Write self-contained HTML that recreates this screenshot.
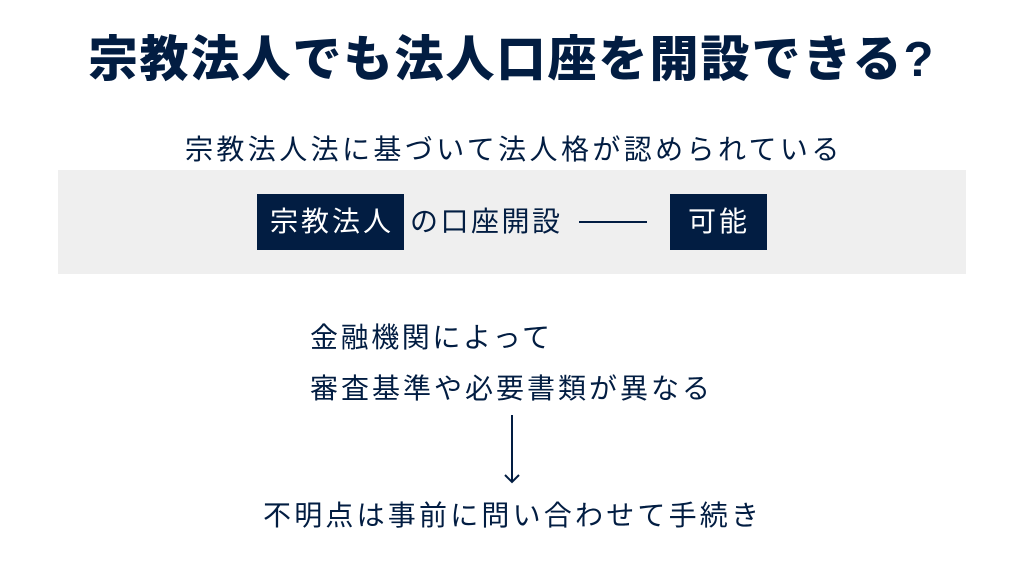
<!DOCTYPE html>
<html><head><meta charset="utf-8"><style>
body{margin:0;width:1024px;height:576px;background:#fff;position:relative;overflow:hidden;font-family:"Liberation Sans","Noto Sans CJK JP",sans-serif;color:#021d42}
.t{position:absolute;white-space:nowrap;line-height:1}
</style></head><body>
<div class="t" style="left:0;width:1024px;text-align:center;top:36px;font-size:49px;font-weight:900;letter-spacing:2px">宗教法人でも法人口座を開設できる?</div>
<div class="t" style="left:185px;top:136px;font-size:28px;letter-spacing:3.4px">宗教法人法に基づいて法人格が認められている</div>
<div style="position:absolute;left:58px;top:170px;width:908px;height:104px;background:#efefef"></div>
<div style="position:absolute;left:257px;top:194px;width:147px;height:56px;background:#021d42"></div>
<div class="t" style="left:270px;top:208px;font-size:28px;color:#fff;letter-spacing:3px">宗教法人</div>
<div class="t" style="left:410px;top:208px;font-size:28px;letter-spacing:2.5px">の口座開設</div>
<div style="position:absolute;left:579px;top:221px;width:68px;height:2px;background:#021d42"></div>
<div style="position:absolute;left:670px;top:194px;width:97px;height:56px;background:#021d42"></div>
<div class="t" style="left:688px;top:208px;font-size:28px;color:#fff;letter-spacing:3px">可能</div>
<div class="t" style="left:310px;top:324px;font-size:28px;letter-spacing:2.6px">金融機関によって</div>
<div class="t" style="left:310px;top:375px;font-size:28px;letter-spacing:3px">審査基準や必要書類が異なる</div>
<svg style="position:absolute;left:500px;top:410px" width="26" height="80"><line x1="12" y1="5" x2="12" y2="72" stroke="#021d42" stroke-width="2"/><polyline points="5,65 12,72 19,65" fill="none" stroke="#021d42" stroke-width="2"/></svg>
<div class="t" style="left:263px;top:502px;font-size:28px;letter-spacing:3.2px">不明点は事前に問い合わせて手続き</div>
</body></html>
